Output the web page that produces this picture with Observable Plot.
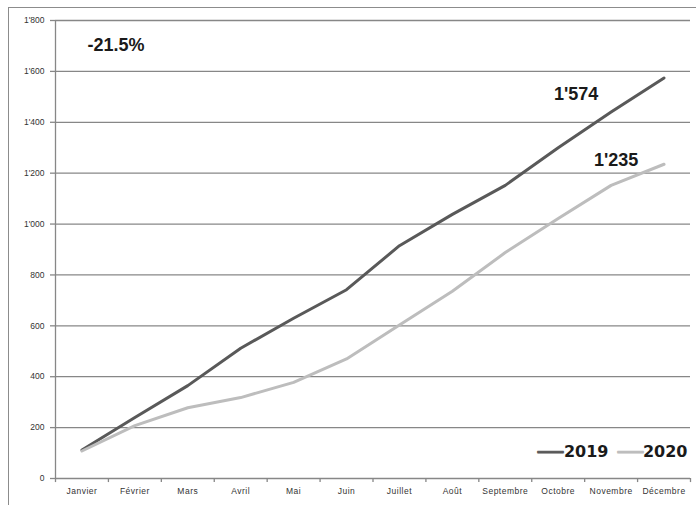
<!DOCTYPE html>
<html>
<head>
<meta charset="utf-8">
<script src="https://cdn.jsdelivr.net/npm/d3@7"></script>
<script src="https://cdn.jsdelivr.net/npm/@observablehq/plot@0.6"></script>
<style>
  html, body { margin: 0; padding: 0; background: #fff; }
  #wrap { position: relative; width: 696px; height: 505px; overflow: hidden; }
  #border { position: absolute; left: 8px; top: 7px; width: 700px; height: 520px; border: 1px solid #8c8c8c; pointer-events: none; box-sizing: border-box; }
  g[aria-label="x-axis tick label"] text { letter-spacing: 0.5px; }
</style>
</head>
<body>
<div id="wrap"><div id="border"></div></div>
<script>
const months = ["Janvier","Février","Mars","Avril","Mai","Juin","Juillet","Août","Septembre","Octobre","Novembre","Décembre"];
const values2019 = [112, 240, 365, 512, 630, 742, 915, 1038, 1152, 1300, 1440, 1574];
const values2020 = [108, 208, 278, 318, 378, 470, 603, 736, 888, 1022, 1152, 1235];
const yTicks = [0, 200, 400, 600, 800, 1000, 1200, 1400, 1600, 1800];
const years = ["2019", "2020"];

const data = [
  ...months.map((m, i) => ({month: m, value: values2019[i], year: years[0]})),
  ...months.map((m, i) => ({month: m, value: values2020[i], year: years[1]}))
];

const fmt = d3.formatLocale({decimal: ".", thousands: "'", grouping: [3], currency: ["", ""]}).format(",d");
const last2019 = values2019[values2019.length - 1];
const last2020 = values2020[values2020.length - 1];
const change = ((last2020 - last2019) / last2019 * 100).toFixed(1) + "%";

const W = 696, H = 505, mL = 55, mR = 6, mT = 20, mB = 27;
const step = (W - mL - mR) / months.length;
const grid = "#878787";
const c2019 = "#595959", c2020 = "#bdbdbd";
const ff = "Liberation Sans, Arial, sans-serif";
const legendFont = "DejaVu Sans, sans-serif";
const txt = "#1a1a1a";

const chart = Plot.plot({
  width: W, height: H,
  marginLeft: mL, marginRight: mR, marginTop: mT, marginBottom: mB,
  style: {fontFamily: ff, background: "transparent"},
  x: {type: "point", domain: months, padding: 0.5, round: false, range: [mL, W - mR], axis: null, label: null},
  y: {domain: [0, 1800], range: [H - mB, mT], axis: null, label: null},
  marks: [
    Plot.gridY(yTicks, {stroke: grid, strokeOpacity: 1, strokeWidth: 1.3}),
    Plot.axisY(yTicks, {tickSize: 5, tickPadding: 6, stroke: grid, strokeWidth: 1.3, tickFormat: fmt, fontSize: 8.5, fill: "#333", label: null}),
    Plot.ruleX([months[0]], {x: d => d, dx: -step / 2, y1: 0, y2: 1800, stroke: grid, strokeWidth: 1.3}),
    Plot.ruleX(months, {x: d => d, y1: 0, y2: -16, dx: -step / 2, stroke: grid, strokeWidth: 1.3}),
    Plot.ruleX([months[months.length - 1]], {x: d => d, y1: 0, y2: -16, dx: step / 2, stroke: grid, strokeWidth: 1.3}),
    Plot.axisX(months, {tickSize: 0, tickPadding: 9, fontSize: 8.5, fill: "#333", label: null}),
    Plot.lineY(data, {x: "month", y: "value", z: "year", stroke: d => d.year === years[0] ? c2019 : c2020, strokeWidth: 3}),
    Plot.text([change], {x: () => months[0], y: () => 1800, text: d => d, dx: 34, dy: 25, fontSize: 18, fontWeight: "bold", fill: txt}),
    Plot.text([last2019], {x: () => months[10], y: d => d, text: d => fmt(d), dx: -35, dy: 16, fontSize: 18, fontWeight: "bold", fill: txt}),
    Plot.text([last2020], {x: () => months[10], y: d => d, text: d => fmt(d), dx: 5, dy: -4, fontSize: 18, fontWeight: "bold", fill: txt}),
    // legend
    Plot.text([years[0]], {frameAnchor: "bottom-right", lineAnchor: "middle", text: d => d, dx: -82, dy: -27, textAnchor: "end", fontSize: 16, fontWeight: "bold", fill: txt, fontFamily: legendFont}),
    Plot.text([years[1]], {frameAnchor: "bottom-right", lineAnchor: "middle", text: d => d, dx: -3, dy: -27, textAnchor: "end", fontSize: 16, fontWeight: "bold", fill: txt, fontFamily: legendFont}),
    Plot.text([years[0]], {frameAnchor: "bottom-right", lineAnchor: "middle", text: () => "—", dx: -127, dy: -28, textAnchor: "end", fontSize: 26, fill: c2019, stroke: c2019, strokeWidth: 0.8}),
    Plot.text([years[1]], {frameAnchor: "bottom-right", lineAnchor: "middle", text: () => "—", dx: -47, dy: -28, textAnchor: "end", fontSize: 26, fill: c2020, stroke: c2020, strokeWidth: 0.8}),
  ]
});
document.getElementById("wrap").prepend(chart);
</script>
</body>
</html>
